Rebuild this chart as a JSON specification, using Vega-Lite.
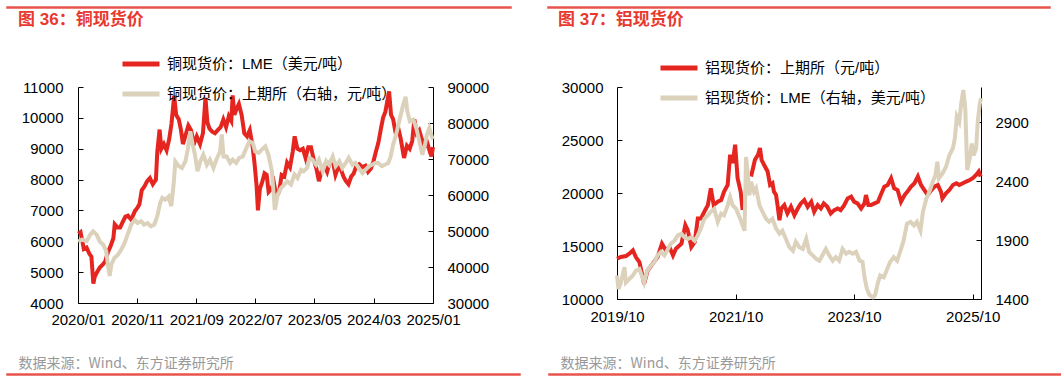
{
  "$schema": "https://vega.github.io/schema/vega-lite/v6.json",
  "padding": {"left": 6, "top": 6, "right": 0, "bottom": 0},
  "background": "white",
  "spacing": 2,
  "datasets": {
    "cu": [
      {"d":"2020/01/02","s":"LME","v":6250},{"d":"2020/01/14","s":"LME","v":6300},{"d":"2020/01/31","s":"LME","v":5750},{"d":"2020/02/14","s":"LME","v":5800},{"d":"2020/02/28","s":"LME","v":5600},{"d":"2020/03/10","s":"LME","v":5500},{"d":"2020/03/20","s":"LME","v":4630},{"d":"2020/03/27","s":"LME","v":4850},{"d":"2020/04/08","s":"LME","v":5000},{"d":"2020/04/22","s":"LME","v":5150},{"d":"2020/05/08","s":"LME","v":5250},{"d":"2020/05/20","s":"LME","v":5350},{"d":"2020/06/03","s":"LME","v":5650},{"d":"2020/06/17","s":"LME","v":5850},{"d":"2020/07/01","s":"LME","v":6100},{"d":"2020/07/08","s":"LME","v":6550},{"d":"2020/07/22","s":"LME","v":6450},{"d":"2020/08/05","s":"LME","v":6450},{"d":"2020/08/20","s":"LME","v":6650},{"d":"2020/09/01","s":"LME","v":6800},{"d":"2020/09/14","s":"LME","v":6830},{"d":"2020/10/01","s":"LME","v":6700},{"d":"2020/10/19","s":"LME","v":6970},{"d":"2020/11/03","s":"LME","v":7100},{"d":"2020/11/12","s":"LME","v":7200},{"d":"2020/11/24","s":"LME","v":7650},{"d":"2020/12/10","s":"LME","v":7800},{"d":"2020/12/22","s":"LME","v":7950},{"d":"2021/01/05","s":"LME","v":8050},{"d":"2021/01/20","s":"LME","v":7850},{"d":"2021/02/05","s":"LME","v":8000},{"d":"2021/02/12","s":"LME","v":8900},{"d":"2021/02/24","s":"LME","v":9620},{"d":"2021/03/05","s":"LME","v":9000},{"d":"2021/03/18","s":"LME","v":9150},{"d":"2021/04/01","s":"LME","v":8950},{"d":"2021/04/14","s":"LME","v":9300},{"d":"2021/04/26","s":"LME","v":9800},{"d":"2021/05/10","s":"LME","v":10720},{"d":"2021/05/20","s":"LME","v":10100},{"d":"2021/06/03","s":"LME","v":9950},{"d":"2021/06/14","s":"LME","v":9600},{"d":"2021/06/24","s":"LME","v":9150},{"d":"2021/07/08","s":"LME","v":9450},{"d":"2021/07/22","s":"LME","v":9750},{"d":"2021/08/05","s":"LME","v":9600},{"d":"2021/08/19","s":"LME","v":9150},{"d":"2021/09/03","s":"LME","v":9400},{"d":"2021/09/20","s":"LME","v":9150},{"d":"2021/10/05","s":"LME","v":9500},{"d":"2021/10/18","s":"LME","v":10650},{"d":"2021/10/28","s":"LME","v":9850},{"d":"2021/11/08","s":"LME","v":9650},{"d":"2021/11/22","s":"LME","v":9550},{"d":"2021/12/06","s":"LME","v":9500},{"d":"2021/12/20","s":"LME","v":9600},{"d":"2022/01/04","s":"LME","v":9700},{"d":"2022/01/18","s":"LME","v":9950},{"d":"2022/02/01","s":"LME","v":9700},{"d":"2022/02/15","s":"LME","v":10050},{"d":"2022/02/28","s":"LME","v":9900},{"d":"2022/03/07","s":"LME","v":10730},{"d":"2022/03/16","s":"LME","v":10100},{"d":"2022/03/28","s":"LME","v":10300},{"d":"2022/04/08","s":"LME","v":10450},{"d":"2022/04/22","s":"LME","v":10100},{"d":"2022/05/06","s":"LME","v":9500},{"d":"2022/05/20","s":"LME","v":9400},{"d":"2022/06/03","s":"LME","v":9600},{"d":"2022/06/17","s":"LME","v":9100},{"d":"2022/06/28","s":"LME","v":8500},{"d":"2022/07/08","s":"LME","v":7800},{"d":"2022/07/15","s":"LME","v":7000},{"d":"2022/07/25","s":"LME","v":7700},{"d":"2022/08/05","s":"LME","v":7900},{"d":"2022/08/18","s":"LME","v":8200},{"d":"2022/08/29","s":"LME","v":8150},{"d":"2022/09/08","s":"LME","v":7600},{"d":"2022/09/22","s":"LME","v":7700},{"d":"2022/10/05","s":"LME","v":7900},{"d":"2022/10/18","s":"LME","v":7450},{"d":"2022/11/01","s":"LME","v":7600},{"d":"2022/11/14","s":"LME","v":8150},{"d":"2022/11/28","s":"LME","v":8100},{"d":"2022/12/12","s":"LME","v":8550},{"d":"2022/12/27","s":"LME","v":8400},{"d":"2023/01/10","s":"LME","v":8900},{"d":"2023/01/20","s":"LME","v":9400},{"d":"2023/02/03","s":"LME","v":9000},{"d":"2023/02/17","s":"LME","v":8950},{"d":"2023/03/03","s":"LME","v":9000},{"d":"2023/03/17","s":"LME","v":8700},{"d":"2023/03/31","s":"LME","v":9050},{"d":"2023/04/14","s":"LME","v":9050},{"d":"2023/04/28","s":"LME","v":8650},{"d":"2023/05/12","s":"LME","v":8350},{"d":"2023/05/25","s":"LME","v":7950},{"d":"2023/06/09","s":"LME","v":8300},{"d":"2023/06/22","s":"LME","v":8450},{"d":"2023/07/06","s":"LME","v":8250},{"d":"2023/07/19","s":"LME","v":8550},{"d":"2023/08/03","s":"LME","v":8650},{"d":"2023/08/18","s":"LME","v":8150},{"d":"2023/09/01","s":"LME","v":8400},{"d":"2023/09/14","s":"LME","v":8350},{"d":"2023/09/28","s":"LME","v":8100},{"d":"2023/10/11","s":"LME","v":7950},{"d":"2023/10/24","s":"LME","v":7850},{"d":"2023/11/07","s":"LME","v":8100},{"d":"2023/11/20","s":"LME","v":8200},{"d":"2023/12/04","s":"LME","v":8450},{"d":"2023/12/18","s":"LME","v":8500},{"d":"2024/01/03","s":"LME","v":8400},{"d":"2024/01/19","s":"LME","v":8450},{"d":"2024/02/02","s":"LME","v":8250},{"d":"2024/02/16","s":"LME","v":8350},{"d":"2024/03/01","s":"LME","v":8600},{"d":"2024/03/13","s":"LME","v":8900},{"d":"2024/03/26","s":"LME","v":9200},{"d":"2024/04/08","s":"LME","v":9650},{"d":"2024/04/19","s":"LME","v":10000},{"d":"2024/05/01","s":"LME","v":10200},{"d":"2024/05/20","s":"LME","v":10860},{"d":"2024/05/30","s":"LME","v":10100},{"d":"2024/06/10","s":"LME","v":9950},{"d":"2024/06/20","s":"LME","v":9600},{"d":"2024/07/05","s":"LME","v":9700},{"d":"2024/07/18","s":"LME","v":9350},{"d":"2024/08/05","s":"LME","v":8700},{"d":"2024/08/20","s":"LME","v":9100},{"d":"2024/09/03","s":"LME","v":9000},{"d":"2024/09/16","s":"LME","v":9250},{"d":"2024/09/27","s":"LME","v":9950},{"d":"2024/10/09","s":"LME","v":9500},{"d":"2024/10/22","s":"LME","v":9600},{"d":"2024/11/05","s":"LME","v":9300},{"d":"2024/11/18","s":"LME","v":9050},{"d":"2024/12/02","s":"LME","v":9200},{"d":"2024/12/16","s":"LME","v":8900},{"d":"2024/12/24","s":"LME","v":8750},{"d":"2025/01/01","s":"LME","v":9050},
      {"d":"2020/01/02","s":"SHFE","v":47100},{"d":"2020/01/22","s":"SHFE","v":47600},{"d":"2020/02/15","s":"SHFE","v":47200},{"d":"2020/03/04","s":"SHFE","v":49000},{"d":"2020/03/19","s":"SHFE","v":49900},{"d":"2020/04/06","s":"SHFE","v":49000},{"d":"2020/04/22","s":"SHFE","v":47100},{"d":"2020/05/10","s":"SHFE","v":46200},{"d":"2020/05/25","s":"SHFE","v":44400},{"d":"2020/06/03","s":"SHFE","v":40600},{"d":"2020/06/12","s":"SHFE","v":37500},{"d":"2020/06/21","s":"SHFE","v":40700},{"d":"2020/07/06","s":"SHFE","v":42500},{"d":"2020/07/25","s":"SHFE","v":43400},{"d":"2020/08/10","s":"SHFE","v":44800},{"d":"2020/08/28","s":"SHFE","v":46700},{"d":"2020/09/12","s":"SHFE","v":49000},{"d":"2020/10/01","s":"SHFE","v":51800},{"d":"2020/10/19","s":"SHFE","v":53100},{"d":"2020/11/03","s":"SHFE","v":52200},{"d":"2020/11/21","s":"SHFE","v":52700},{"d":"2020/12/06","s":"SHFE","v":51800},{"d":"2020/12/24","s":"SHFE","v":52200},{"d":"2021/01/10","s":"SHFE","v":51300},{"d":"2021/01/28","s":"SHFE","v":51800},{"d":"2021/02/12","s":"SHFE","v":54100},{"d":"2021/02/27","s":"SHFE","v":57800},{"d":"2021/03/10","s":"SHFE","v":59200},{"d":"2021/03/25","s":"SHFE","v":58700},{"d":"2021/04/12","s":"SHFE","v":59600},{"d":"2021/04/25","s":"SHFE","v":56900},{"d":"2021/05/07","s":"SHFE","v":62900},{"d":"2021/05/16","s":"SHFE","v":69300},{"d":"2021/06/03","s":"SHFE","v":68000},{"d":"2021/06/19","s":"SHFE","v":67500},{"d":"2021/07/07","s":"SHFE","v":69400},{"d":"2021/07/19","s":"SHFE","v":72600},{"d":"2021/08/01","s":"SHFE","v":77700},{"d":"2021/08/13","s":"SHFE","v":74000},{"d":"2021/08/25","s":"SHFE","v":71200},{"d":"2021/09/07","s":"SHFE","v":66600},{"d":"2021/09/22","s":"SHFE","v":69400},{"d":"2021/10/07","s":"SHFE","v":71200},{"d":"2021/10/25","s":"SHFE","v":68400},{"d":"2021/11/10","s":"SHFE","v":69800},{"d":"2021/11/28","s":"SHFE","v":67500},{"d":"2021/12/13","s":"SHFE","v":69800},{"d":"2022/01/01","s":"SHFE","v":72100},{"d":"2022/01/10","s":"SHFE","v":76800},{"d":"2022/01/19","s":"SHFE","v":70700},{"d":"2022/02/04","s":"SHFE","v":70700},{"d":"2022/02/22","s":"SHFE","v":68900},{"d":"2022/03/07","s":"SHFE","v":69800},{"d":"2022/03/25","s":"SHFE","v":68900},{"d":"2022/04/10","s":"SHFE","v":70300},{"d":"2022/04/28","s":"SHFE","v":70700},{"d":"2022/05/13","s":"SHFE","v":72600},{"d":"2022/06/01","s":"SHFE","v":74900},{"d":"2022/06/19","s":"SHFE","v":74400},{"d":"2022/07/01","s":"SHFE","v":72100},{"d":"2022/07/19","s":"SHFE","v":71700},{"d":"2022/08/04","s":"SHFE","v":72600},{"d":"2022/08/22","s":"SHFE","v":73500},{"d":"2022/09/07","s":"SHFE","v":71200},{"d":"2022/09/25","s":"SHFE","v":66600},{"d":"2022/10/04","s":"SHFE","v":60100},{"d":"2022/10/10","s":"SHFE","v":55900},{"d":"2022/10/25","s":"SHFE","v":60100},{"d":"2022/11/10","s":"SHFE","v":61900},{"d":"2022/11/28","s":"SHFE","v":62900},{"d":"2022/12/13","s":"SHFE","v":63800},{"d":"2023/01/01","s":"SHFE","v":62900},{"d":"2023/01/19","s":"SHFE","v":65700},{"d":"2023/02/04","s":"SHFE","v":64700},{"d":"2023/02/22","s":"SHFE","v":67000},{"d":"2023/03/07","s":"SHFE","v":66600},{"d":"2023/03/25","s":"SHFE","v":67500},{"d":"2023/04/07","s":"SHFE","v":70300},{"d":"2023/04/22","s":"SHFE","v":69800},{"d":"2023/05/10","s":"SHFE","v":68400},{"d":"2023/05/25","s":"SHFE","v":69800},{"d":"2023/06/13","s":"SHFE","v":66600},{"d":"2023/07/01","s":"SHFE","v":69400},{"d":"2023/07/16","s":"SHFE","v":68400},{"d":"2023/08/04","s":"SHFE","v":70700},{"d":"2023/08/19","s":"SHFE","v":68000},{"d":"2023/09/07","s":"SHFE","v":69400},{"d":"2023/09/22","s":"SHFE","v":67500},{"d":"2023/10/10","s":"SHFE","v":68900},{"d":"2023/10/25","s":"SHFE","v":70300},{"d":"2023/11/13","s":"SHFE","v":68400},{"d":"2023/11/28","s":"SHFE","v":68900},{"d":"2023/12/16","s":"SHFE","v":67500},{"d":"2024/01/04","s":"SHFE","v":66100},{"d":"2024/01/19","s":"SHFE","v":67000},{"d":"2024/02/07","s":"SHFE","v":68000},{"d":"2024/02/22","s":"SHFE","v":68400},{"d":"2024/03/10","s":"SHFE","v":68900},{"d":"2024/03/25","s":"SHFE","v":68900},{"d":"2024/04/13","s":"SHFE","v":68000},{"d":"2024/04/28","s":"SHFE","v":68400},{"d":"2024/05/16","s":"SHFE","v":68900},{"d":"2024/05/28","s":"SHFE","v":70700},{"d":"2024/06/10","s":"SHFE","v":74000},{"d":"2024/06/25","s":"SHFE","v":76800},{"d":"2024/07/07","s":"SHFE","v":79500},{"d":"2024/07/19","s":"SHFE","v":82300},{"d":"2024/08/01","s":"SHFE","v":85100},{"d":"2024/08/13","s":"SHFE","v":87300},{"d":"2024/08/22","s":"SHFE","v":83200},{"d":"2024/09/04","s":"SHFE","v":80500},{"d":"2024/09/22","s":"SHFE","v":80900},{"d":"2024/10/07","s":"SHFE","v":78600},{"d":"2024/10/25","s":"SHFE","v":74400},{"d":"2024/11/07","s":"SHFE","v":71200},{"d":"2024/11/19","s":"SHFE","v":73500},{"d":"2024/12/01","s":"SHFE","v":76800},{"d":"2024/12/13","s":"SHFE","v":78600},{"d":"2024/12/25","s":"SHFE","v":76300},{"d":"2025/01/01","s":"SHFE","v":75500}
    ],
    "al": [
      {"d":"2019/10/01","s":"SHFE","v":13800},{"d":"2019/10/25","s":"SHFE","v":13960},{"d":"2019/11/25","s":"SHFE","v":14050},{"d":"2019/12/16","s":"SHFE","v":14270},{"d":"2020/01/07","s":"SHFE","v":14590},{"d":"2020/01/25","s":"SHFE","v":13960},{"d":"2020/02/16","s":"SHFE","v":13480},{"d":"2020/03/01","s":"SHFE","v":12530},{"d":"2020/03/16","s":"SHFE","v":11430},{"d":"2020/04/07","s":"SHFE","v":12690},{"d":"2020/05/07","s":"SHFE","v":13320},{"d":"2020/06/07","s":"SHFE","v":13960},{"d":"2020/07/04","s":"SHFE","v":15220},{"d":"2020/07/28","s":"SHFE","v":14590},{"d":"2020/08/19","s":"SHFE","v":14910},{"d":"2020/09/10","s":"SHFE","v":14110},{"d":"2020/09/28","s":"SHFE","v":14750},{"d":"2020/11/01","s":"SHFE","v":15220},{"d":"2020/11/25","s":"SHFE","v":16960},{"d":"2020/12/10","s":"SHFE","v":16490},{"d":"2021/01/01","s":"SHFE","v":14910},{"d":"2021/01/22","s":"SHFE","v":15380},{"d":"2021/02/10","s":"SHFE","v":17590},{"d":"2021/03/01","s":"SHFE","v":17590},{"d":"2021/03/22","s":"SHFE","v":18230},{"d":"2021/04/13","s":"SHFE","v":18860},{"d":"2021/05/01","s":"SHFE","v":20440},{"d":"2021/05/19","s":"SHFE","v":18860},{"d":"2021/06/13","s":"SHFE","v":19180},{"d":"2021/07/04","s":"SHFE","v":19340},{"d":"2021/07/22","s":"SHFE","v":20130},{"d":"2021/08/13","s":"SHFE","v":20760},{"d":"2021/08/28","s":"SHFE","v":23610},{"d":"2021/09/13","s":"SHFE","v":22820},{"d":"2021/09/28","s":"SHFE","v":24560},{"d":"2021/10/13","s":"SHFE","v":21390},{"d":"2021/11/01","s":"SHFE","v":20130},{"d":"2021/11/13","s":"SHFE","v":18390},{"d":"2021/12/10","s":"SHFE","v":null},{"d":"2022/01/04","s":"SHFE","v":21550},{"d":"2022/01/16","s":"SHFE","v":22340},{"d":"2022/01/28","s":"SHFE","v":23130},{"d":"2022/02/16","s":"SHFE","v":23610},{"d":"2022/02/28","s":"SHFE","v":24240},{"d":"2022/03/10","s":"SHFE","v":23130},{"d":"2022/03/25","s":"SHFE","v":22660},{"d":"2022/04/16","s":"SHFE","v":22030},{"d":"2022/05/01","s":"SHFE","v":20760},{"d":"2022/05/16","s":"SHFE","v":20920},{"d":"2022/05/25","s":"SHFE","v":20130},{"d":"2022/06/07","s":"SHFE","v":19810},{"d":"2022/06/16","s":"SHFE","v":18860},{"d":"2022/06/28","s":"SHFE","v":17440},{"d":"2022/07/10","s":"SHFE","v":18540},{"d":"2022/07/28","s":"SHFE","v":18860},{"d":"2022/08/16","s":"SHFE","v":18070},{"d":"2022/09/07","s":"SHFE","v":18700},{"d":"2022/09/28","s":"SHFE","v":17910},{"d":"2022/10/19","s":"SHFE","v":18540},{"d":"2022/11/07","s":"SHFE","v":19020},{"d":"2022/11/28","s":"SHFE","v":19340},{"d":"2022/12/19","s":"SHFE","v":18700},{"d":"2023/01/10","s":"SHFE","v":19180},{"d":"2023/01/28","s":"SHFE","v":18230},{"d":"2023/02/19","s":"SHFE","v":18860},{"d":"2023/03/10","s":"SHFE","v":18540},{"d":"2023/03/28","s":"SHFE","v":19020},{"d":"2023/04/19","s":"SHFE","v":18700},{"d":"2023/05/10","s":"SHFE","v":18070},{"d":"2023/06/01","s":"SHFE","v":18390},{"d":"2023/06/22","s":"SHFE","v":18540},{"d":"2023/07/10","s":"SHFE","v":18390},{"d":"2023/08/01","s":"SHFE","v":18860},{"d":"2023/08/22","s":"SHFE","v":19490},{"d":"2023/09/13","s":"SHFE","v":19650},{"d":"2023/10/01","s":"SHFE","v":19180},{"d":"2023/10/22","s":"SHFE","v":19020},{"d":"2023/11/13","s":"SHFE","v":18540},{"d":"2023/12/04","s":"SHFE","v":19020},{"d":"2023/12/13","s":"SHFE","v":19810},{"d":"2023/12/28","s":"SHFE","v":18860},{"d":"2024/01/13","s":"SHFE","v":18860},{"d":"2024/02/04","s":"SHFE","v":19020},{"d":"2024/02/25","s":"SHFE","v":19180},{"d":"2024/03/13","s":"SHFE","v":19810},{"d":"2024/04/04","s":"SHFE","v":20600},{"d":"2024/04/25","s":"SHFE","v":20760},{"d":"2024/05/16","s":"SHFE","v":21390},{"d":"2024/06/04","s":"SHFE","v":20440},{"d":"2024/06/25","s":"SHFE","v":20280},{"d":"2024/07/16","s":"SHFE","v":19180},{"d":"2024/08/07","s":"SHFE","v":19810},{"d":"2024/08/25","s":"SHFE","v":20130},{"d":"2024/09/16","s":"SHFE","v":20600},{"d":"2024/10/07","s":"SHFE","v":20920},{"d":"2024/10/28","s":"SHFE","v":21550},{"d":"2024/11/16","s":"SHFE","v":20760},{"d":"2024/12/07","s":"SHFE","v":20280},{"d":"2024/12/28","s":"SHFE","v":19810},{"d":"2025/01/19","s":"SHFE","v":20280},{"d":"2025/02/07","s":"SHFE","v":20600},{"d":"2025/02/28","s":"SHFE","v":20760},{"d":"2025/03/19","s":"SHFE","v":20130},{"d":"2025/03/28","s":"SHFE","v":19490},{"d":"2025/04/19","s":"SHFE","v":19970},{"d":"2025/05/10","s":"SHFE","v":20280},{"d":"2025/06/01","s":"SHFE","v":20760},{"d":"2025/06/22","s":"SHFE","v":20920},{"d":"2025/07/10","s":"SHFE","v":20760},{"d":"2025/08/01","s":"SHFE","v":20920},{"d":"2025/08/22","s":"SHFE","v":21080},{"d":"2025/09/13","s":"SHFE","v":21230},{"d":"2025/10/01","s":"SHFE","v":21390},{"d":"2025/10/22","s":"SHFE","v":21710},{"d":"2025/11/07","s":"SHFE","v":22030},{"d":"2025/11/19","s":"SHFE","v":21550},
      {"d":"2019/10/01","s":"LME","v":1600},{"d":"2019/10/10","s":"LME","v":1485},{"d":"2019/10/25","s":"LME","v":1540},{"d":"2019/11/16","s":"LME","v":1670},{"d":"2019/11/25","s":"LME","v":1540},{"d":"2019/12/16","s":"LME","v":1570},{"d":"2020/01/07","s":"LME","v":1600},{"d":"2020/01/25","s":"LME","v":1640},{"d":"2020/02/16","s":"LME","v":1655},{"d":"2020/03/01","s":"LME","v":1600},{"d":"2020/03/16","s":"LME","v":1540},{"d":"2020/04/04","s":"LME","v":1640},{"d":"2020/04/28","s":"LME","v":1685},{"d":"2020/05/19","s":"LME","v":1715},{"d":"2020/06/07","s":"LME","v":1770},{"d":"2020/06/28","s":"LME","v":1800},{"d":"2020/07/19","s":"LME","v":1770},{"d":"2020/08/10","s":"LME","v":1825},{"d":"2020/08/28","s":"LME","v":1870},{"d":"2020/09/19","s":"LME","v":1895},{"d":"2020/10/10","s":"LME","v":1940},{"d":"2020/11/01","s":"LME","v":1955},{"d":"2020/11/19","s":"LME","v":1925},{"d":"2020/12/10","s":"LME","v":1910},{"d":"2021/01/01","s":"LME","v":1925},{"d":"2021/01/22","s":"LME","v":1895},{"d":"2021/02/10","s":"LME","v":1940},{"d":"2021/03/01","s":"LME","v":2000},{"d":"2021/03/22","s":"LME","v":2080},{"d":"2021/04/13","s":"LME","v":2110},{"d":"2021/05/01","s":"LME","v":2140},{"d":"2021/05/22","s":"LME","v":2165},{"d":"2021/06/13","s":"LME","v":2055},{"d":"2021/07/04","s":"LME","v":2125},{"d":"2021/07/22","s":"LME","v":2110},{"d":"2021/08/13","s":"LME","v":2195},{"d":"2021/08/28","s":"LME","v":2265},{"d":"2021/09/13","s":"LME","v":2195},{"d":"2021/10/04","s":"LME","v":2165},{"d":"2021/10/25","s":"LME","v":2095},{"d":"2021/11/13","s":"LME","v":2025},{"d":"2021/11/25","s":"LME","v":1980},{"d":"2021/12/04","s":"LME","v":2605},{"d":"2021/12/16","s":"LME","v":2450},{"d":"2021/12/25","s":"LME","v":2280},{"d":"2022/01/04","s":"LME","v":2395},{"d":"2022/01/22","s":"LME","v":2310},{"d":"2022/02/04","s":"LME","v":2340},{"d":"2022/02/25","s":"LME","v":2195},{"d":"2022/03/16","s":"LME","v":2140},{"d":"2022/04/07","s":"LME","v":2080},{"d":"2022/04/25","s":"LME","v":2055},{"d":"2022/05/16","s":"LME","v":2080},{"d":"2022/06/07","s":"LME","v":2000},{"d":"2022/06/28","s":"LME","v":1955},{"d":"2022/07/16","s":"LME","v":1980},{"d":"2022/08/07","s":"LME","v":1910},{"d":"2022/08/28","s":"LME","v":1840},{"d":"2022/09/19","s":"LME","v":1810},{"d":"2022/10/07","s":"LME","v":1885},{"d":"2022/10/28","s":"LME","v":1840},{"d":"2022/11/19","s":"LME","v":1825},{"d":"2022/12/10","s":"LME","v":1910},{"d":"2022/12/28","s":"LME","v":1800},{"d":"2023/01/19","s":"LME","v":1770},{"d":"2023/02/10","s":"LME","v":1740},{"d":"2023/03/01","s":"LME","v":1725},{"d":"2023/03/19","s":"LME","v":1770},{"d":"2023/04/10","s":"LME","v":1825},{"d":"2023/05/01","s":"LME","v":1770},{"d":"2023/05/22","s":"LME","v":1725},{"d":"2023/06/10","s":"LME","v":1755},{"d":"2023/07/01","s":"LME","v":1725},{"d":"2023/07/22","s":"LME","v":1825},{"d":"2023/08/13","s":"LME","v":1785},{"d":"2023/09/01","s":"LME","v":1800},{"d":"2023/09/22","s":"LME","v":1785},{"d":"2023/10/13","s":"LME","v":1800},{"d":"2023/11/04","s":"LME","v":1725},{"d":"2023/11/22","s":"LME","v":1715},{"d":"2023/12/04","s":"LME","v":1585},{"d":"2023/12/19","s":"LME","v":1485},{"d":"2024/01/04","s":"LME","v":1435},{"d":"2024/01/25","s":"LME","v":1415},{"d":"2024/02/07","s":"LME","v":1430},{"d":"2024/02/25","s":"LME","v":1540},{"d":"2024/03/10","s":"LME","v":1600},{"d":"2024/04/01","s":"LME","v":1585},{"d":"2024/04/22","s":"LME","v":1655},{"d":"2024/05/10","s":"LME","v":1715},{"d":"2024/06/01","s":"LME","v":1755},{"d":"2024/06/22","s":"LME","v":1725},{"d":"2024/07/13","s":"LME","v":1810},{"d":"2024/08/01","s":"LME","v":1895},{"d":"2024/08/22","s":"LME","v":2040},{"d":"2024/09/13","s":"LME","v":2055},{"d":"2024/10/04","s":"LME","v":2025},{"d":"2024/10/22","s":"LME","v":2055},{"d":"2024/11/13","s":"LME","v":1980},{"d":"2024/11/28","s":"LME","v":2140},{"d":"2024/12/19","s":"LME","v":2250},{"d":"2025/01/07","s":"LME","v":2310},{"d":"2025/01/28","s":"LME","v":2395},{"d":"2025/02/13","s":"LME","v":2450},{"d":"2025/02/25","s":"LME","v":2565},{"d":"2025/03/07","s":"LME","v":2425},{"d":"2025/03/28","s":"LME","v":2465},{"d":"2025/04/19","s":"LME","v":2520},{"d":"2025/05/10","s":"LME","v":2620},{"d":"2025/06/01","s":"LME","v":2680},{"d":"2025/06/13","s":"LME","v":2765},{"d":"2025/06/25","s":"LME","v":2950},{"d":"2025/07/10","s":"LME","v":2905},{"d":"2025/07/22","s":"LME","v":3060},{"d":"2025/08/04","s":"LME","v":3175},{"d":"2025/08/16","s":"LME","v":3020},{"d":"2025/08/28","s":"LME","v":2495},{"d":"2025/09/13","s":"LME","v":2595},{"d":"2025/09/25","s":"LME","v":2720},{"d":"2025/10/07","s":"LME","v":2620},{"d":"2025/10/22","s":"LME","v":2680},{"d":"2025/11/01","s":"LME","v":2905},{"d":"2025/11/13","s":"LME","v":3050},{"d":"2025/11/21","s":"LME","v":3105}
    ]
  },
  "vconcat": [
    {
      "spacing": 35,
      "hconcat": [
        {"width": 504, "height": 1, "view": {"stroke": "#e8534b", "strokeWidth": 1.5}, "data": {"values": []}, "mark": "point", "encoding": {}},
        {"width": 502, "height": 1, "view": {"stroke": "#e8534b", "strokeWidth": 1.5}, "data": {"values": []}, "mark": "point", "encoding": {}}
      ]
    },
    {
      "spacing": 0,
      "resolve": {"scale": {"color": "independent"}, "legend": {"color": "independent"}},
      "hconcat": [
        {"width": 1, "height": 1, "data": {"values": []}, "mark": "point", "encoding": {}},
        {
          "width": 355, "height": 216,
          "data": {"name": "cu"},
          "title": {"text": "图 36：铜现货价", "anchor": "start", "frame": "group", "dx": -60, "offset": 25},
          "encoding": {
            "x": {"field": "d", "type": "temporal",
              "scale": {"domain": [{"year": 2020, "month": 1, "date": 1}, {"year": 2025, "month": 1, "date": 1}]},
              "axis": {"format": "%Y/%m", "labelFlush": false, "labelOverlap": false, "labelPadding": 14,
                "values": [{"year": 2020, "month": 1, "date": 1}, {"year": 2020, "month": 11, "date": 1}, {"year": 2021, "month": 9, "date": 1}, {"year": 2022, "month": 7, "date": 1}, {"year": 2023, "month": 5, "date": 1}, {"year": 2024, "month": 3, "date": 1}, {"year": 2025, "month": 1, "date": 1}],
                "title": "数据来源：Wind、东方证券研究所", "titleX": -60, "titleAlign": "left", "titleBaseline": "top", "titlePadding": 29.5,
                "titleFont": "Noto Sans CJK SC", "titleFontSize": 14, "titleFontWeight": "normal", "titleColor": "#999999"}},
            "color": {"field": "s", "type": "nominal",
              "scale": {"domain": ["LME", "SHFE"], "range": ["#e52520", "#dcd2bc"]},
              "legend": {"orient": "none", "legendX": 42, "legendY": -33,
                "labelExpr": "datum.value == 'LME' ? '铜现货价：LME（美元/吨）' : '铜现货价：上期所（右轴，元/吨）'"}}
          },
          "layer": [
            {"transform": [{"filter": "datum.s == 'LME'"}],
             "mark": {"type": "line", "strokeWidth": 4, "invalid": "break-paths-show-domains"},
             "encoding": {"y": {"field": "v", "type": "quantitative",
               "scale": {"domain": [4000, 11000], "nice": false, "zero": false},
               "axis": {"orient": "left", "title": null, "format": "d", "values": [4000, 5000, 6000, 7000, 8000, 9000, 10000, 11000], "labelPadding": 20, "minExtent": 70}}}},
            {"transform": [{"filter": "datum.s == 'SHFE'"}],
             "mark": {"type": "line", "strokeWidth": 4, "invalid": "break-paths-show-domains"},
             "encoding": {"y": {"field": "v", "type": "quantitative",
               "scale": {"domain": [30000, 90000], "nice": false, "zero": false},
               "axis": {"orient": "right", "title": null, "format": "d", "values": [30000, 40000, 50000, 60000, 70000, 80000, 90000], "labelPadding": 19}}}}
          ],
          "resolve": {"scale": {"y": "independent"}}
        },
        {
          "width": 364, "height": 212,
          "data": {"name": "al"},
          "title": {"text": "图 37：铝现货价", "anchor": "start", "frame": "group", "dx": -59, "offset": 29},
          "encoding": {
            "x": {"field": "d", "type": "temporal",
              "scale": {"domain": [{"year": 2019, "month": 10, "date": 1}, {"year": 2025, "month": 11, "date": 21}]},
              "axis": {"format": "%Y/%m", "labelFlush": false, "labelOverlap": false, "labelPadding": 15,
                "values": [{"year": 2019, "month": 10, "date": 1}, {"year": 2021, "month": 10, "date": 1}, {"year": 2023, "month": 10, "date": 1}, {"year": 2025, "month": 10, "date": 1}],
                "title": "数据来源：Wind、东方证券研究所", "titleX": -57, "titleAlign": "left", "titleBaseline": "top", "titlePadding": 32.5,
                "titleFont": "Noto Sans CJK SC", "titleFontSize": 14, "titleFontWeight": "normal", "titleColor": "#999999"}},
            "color": {"field": "s", "type": "nominal",
              "scale": {"domain": ["SHFE", "LME"], "range": ["#e52520", "#dcd2bc"]},
              "legend": {"orient": "none", "legendX": 41, "legendY": -29,
                "labelExpr": "datum.value == 'SHFE' ? '铝现货价：上期所（元/吨）' : '铝现货价：LME（右轴，美元/吨）'"}}
          },
          "layer": [
            {"transform": [{"filter": "datum.s == 'SHFE'"}],
             "mark": {"type": "line", "strokeWidth": 4, "invalid": "break-paths-show-domains"},
             "encoding": {"y": {"field": "v", "type": "quantitative",
               "scale": {"domain": [10000, 30000], "nice": false, "zero": false},
               "axis": {"orient": "left", "title": null, "format": "d", "values": [10000, 15000, 20000, 25000, 30000], "labelPadding": 19, "minExtent": 128}}}},
            {"transform": [{"filter": "datum.s == 'LME'"}],
             "mark": {"type": "line", "strokeWidth": 4, "invalid": "break-paths-show-domains"},
             "encoding": {"y": {"field": "v", "type": "quantitative",
               "scale": {"domain": [1400, 3200], "nice": false, "zero": false},
               "axis": {"orient": "right", "title": null, "format": "d", "values": [1400, 1900, 2400, 2900], "labelPadding": 19}}}}
          ],
          "resolve": {"scale": {"y": "independent"}}
        }
      ]
    },
    {
      "spacing": 27,
      "hconcat": [
        {"width": 513, "height": 1, "view": {"stroke": "#e8534b", "strokeWidth": 1.5}, "data": {"values": []}, "mark": "point", "encoding": {}},
        {"width": 513, "height": 1, "view": {"stroke": "#e8534b", "strokeWidth": 1.5}, "data": {"values": []}, "mark": "point", "encoding": {}}
      ]
    }
  ],
  "config": {
    "view": {"stroke": null},
    "axis": {"domainColor": "#000000", "domainWidth": 1, "tickColor": "#000000", "tickWidth": 1, "tickSize": -5,
      "labelColor": "#000000", "labelFont": "Liberation Sans", "labelFontSize": 15, "grid": false},
    "legend": {"title": null, "direction": "vertical", "padding": 0, "symbolType": "stroke", "symbolSize": 1369,
      "symbolStrokeWidth": 5, "clipHeight": 20, "rowPadding": 10, "labelFontSize": 15, "labelColor": "#000000",
      "labelFont": "Liberation Sans, Noto Sans CJK SC", "labelLimit": 400, "labelOffset": 5},
    "title": {"fontSize": 17, "fontWeight": "bold", "color": "#e8392f", "font": "Liberation Sans, Noto Sans CJK SC"}
  }
}
